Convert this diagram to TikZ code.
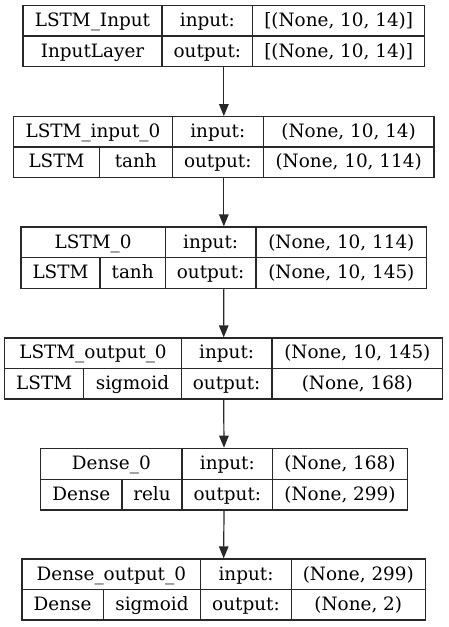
\documentclass[tikz,border=0pt]{standalone}
\usepackage{fontspec}
\setmainfont{DejaVu Serif}
\usetikzlibrary{arrows.meta}
\definecolor{edge}{RGB}{40,40,40}
\tikzset{
  cell/.style={draw=edge, line width=1.2pt, inner sep=0pt, text height=14pt, text depth=2.4pt, font=\fontsize{18.4}{21}\selectfont, text=black},
  block/.style={draw=edge, line width=1.2pt, inner sep=0pt},
  flow/.style={draw=edge, line width=1.2pt, -{Triangle[length=12pt,width=9.5pt]}}
}
\newcommand\gc[6]{\node[cell, minimum width={(#3)-(#2)}, minimum height={(#5)-(#4)}] (#1) at ({((#2)+(#3))/2},{((#4)+(#5))/2}) {#6};}
\newcommand\gb[5]{\node[block, minimum width={(#3)-(#2)}, minimum height={(#5)-(#4)}] (#1) at ({((#2)+(#3))/2},{((#4)+(#5))/2}) {};}
\begin{document}
\begin{tikzpicture}[x=1pt,y=-1pt]
\useasboundingbox (0,0) rectangle (448,627);
% Block 1
\gb{b1}{23}{424.7}{5.7}{66.7}
\gc{b1n}{23}{162}{5.7}{36}{LSTM\_Input}
\gc{b1i}{162}{252.7}{5.7}{36}{input:}
\gc{b1iv}{252.7}{424.7}{5.7}{36}{[(None, 10, 14)]}
\gc{b1t}{23}{162}{36}{66.7}{InputLayer}
\gc{b1o}{162}{252.7}{36}{66.7}{output:}
\gc{b1ov}{252.7}{424.7}{36}{66.7}{[(None, 10, 14)]}
% Block 2
\gb{b2}{13.7}{434}{116.7}{177.3}
\gc{b2n}{13.7}{172.3}{116.7}{147}{LSTM\_input\_0}
\gc{b2i}{172.3}{263.3}{116.7}{147}{input:}
\gc{b2iv}{263.3}{434}{116.7}{147}{(None, 10, 14)}
\gc{b2t}{13.7}{99.3}{147}{177.3}{LSTM}
\gc{b2a}{99.3}{172.3}{147}{177.3}{tanh}
\gc{b2o}{172.3}{263.3}{147}{177.3}{output:}
\gc{b2ov}{263.3}{434}{147}{177.3}{(None, 10, 114)}
% Block 3
\gb{b3}{21}{426.7}{227}{288.3}
\gc{b3n}{21}{165.3}{227}{257.7}{LSTM\_0}
\gc{b3i}{165.3}{256}{227}{257.7}{input:}
\gc{b3iv}{256}{426.7}{227}{257.7}{(None, 10, 114)}
\gc{b3t}{21}{100}{257.7}{288.3}{LSTM}
\gc{b3a}{100}{165.3}{257.7}{288.3}{tanh}
\gc{b3o}{165.3}{256}{257.7}{288.3}{output:}
\gc{b3ov}{256}{426.7}{257.7}{288.3}{(None, 10, 145)}
% Block 4
\gb{b4}{4.7}{442.7}{338}{399}
\gc{b4n}{4.7}{181.3}{338}{368.3}{LSTM\_output\_0}
\gc{b4i}{181.3}{272}{338}{368.3}{input:}
\gc{b4iv}{272}{442.7}{338}{368.3}{(None, 10, 145)}
\gc{b4t}{4.7}{83.7}{368.3}{399}{LSTM}
\gc{b4a}{83.7}{181.3}{368.3}{399}{sigmoid}
\gc{b4o}{181.3}{272}{368.3}{399}{output:}
\gc{b4ov}{272}{442.7}{368.3}{399}{(None, 168)}
% Block 5
\gb{b5}{40.7}{407.3}{448.3}{510}
\gc{b5n}{40.7}{182}{448.3}{479.2}{Dense\_0}
\gc{b5i}{182}{272.7}{448.3}{479.2}{input:}
\gc{b5iv}{272.7}{407.3}{448.3}{479.2}{(None, 168)}
\gc{b5t}{40.7}{122}{479.2}{510}{Dense}
\gc{b5a}{122}{182}{479.2}{510}{relu}
\gc{b5o}{182}{272.7}{479.2}{510}{output:}
\gc{b5ov}{272.7}{407.3}{479.2}{510}{(None, 299)}
% Block 6
\gb{b6}{22}{425.3}{559}{620}
\gc{b6n}{22}{200.7}{559}{589.7}{Dense\_output\_0}
\gc{b6i}{200.7}{291.3}{559}{589.7}{input:}
\gc{b6iv}{291.3}{425.3}{559}{589.7}{(None, 299)}
\gc{b6t}{22}{103.3}{589.7}{620}{Dense}
\gc{b6a}{103.3}{200.7}{589.7}{620}{sigmoid}
\gc{b6o}{200.7}{291.3}{589.7}{620}{output:}
\gc{b6ov}{291.3}{425.3}{589.7}{620}{(None, 2)}
% Arrows
\draw[flow] (b1.south) -- (b2.north);
\draw[flow] (b2.south) -- (b3.north);
\draw[flow] (b3.south) -- (b4.north);
\draw[flow] (b4.south) -- (b5.north);
\draw[flow] (b5.south) -- (b6.north);
\end{tikzpicture}
\end{document}
